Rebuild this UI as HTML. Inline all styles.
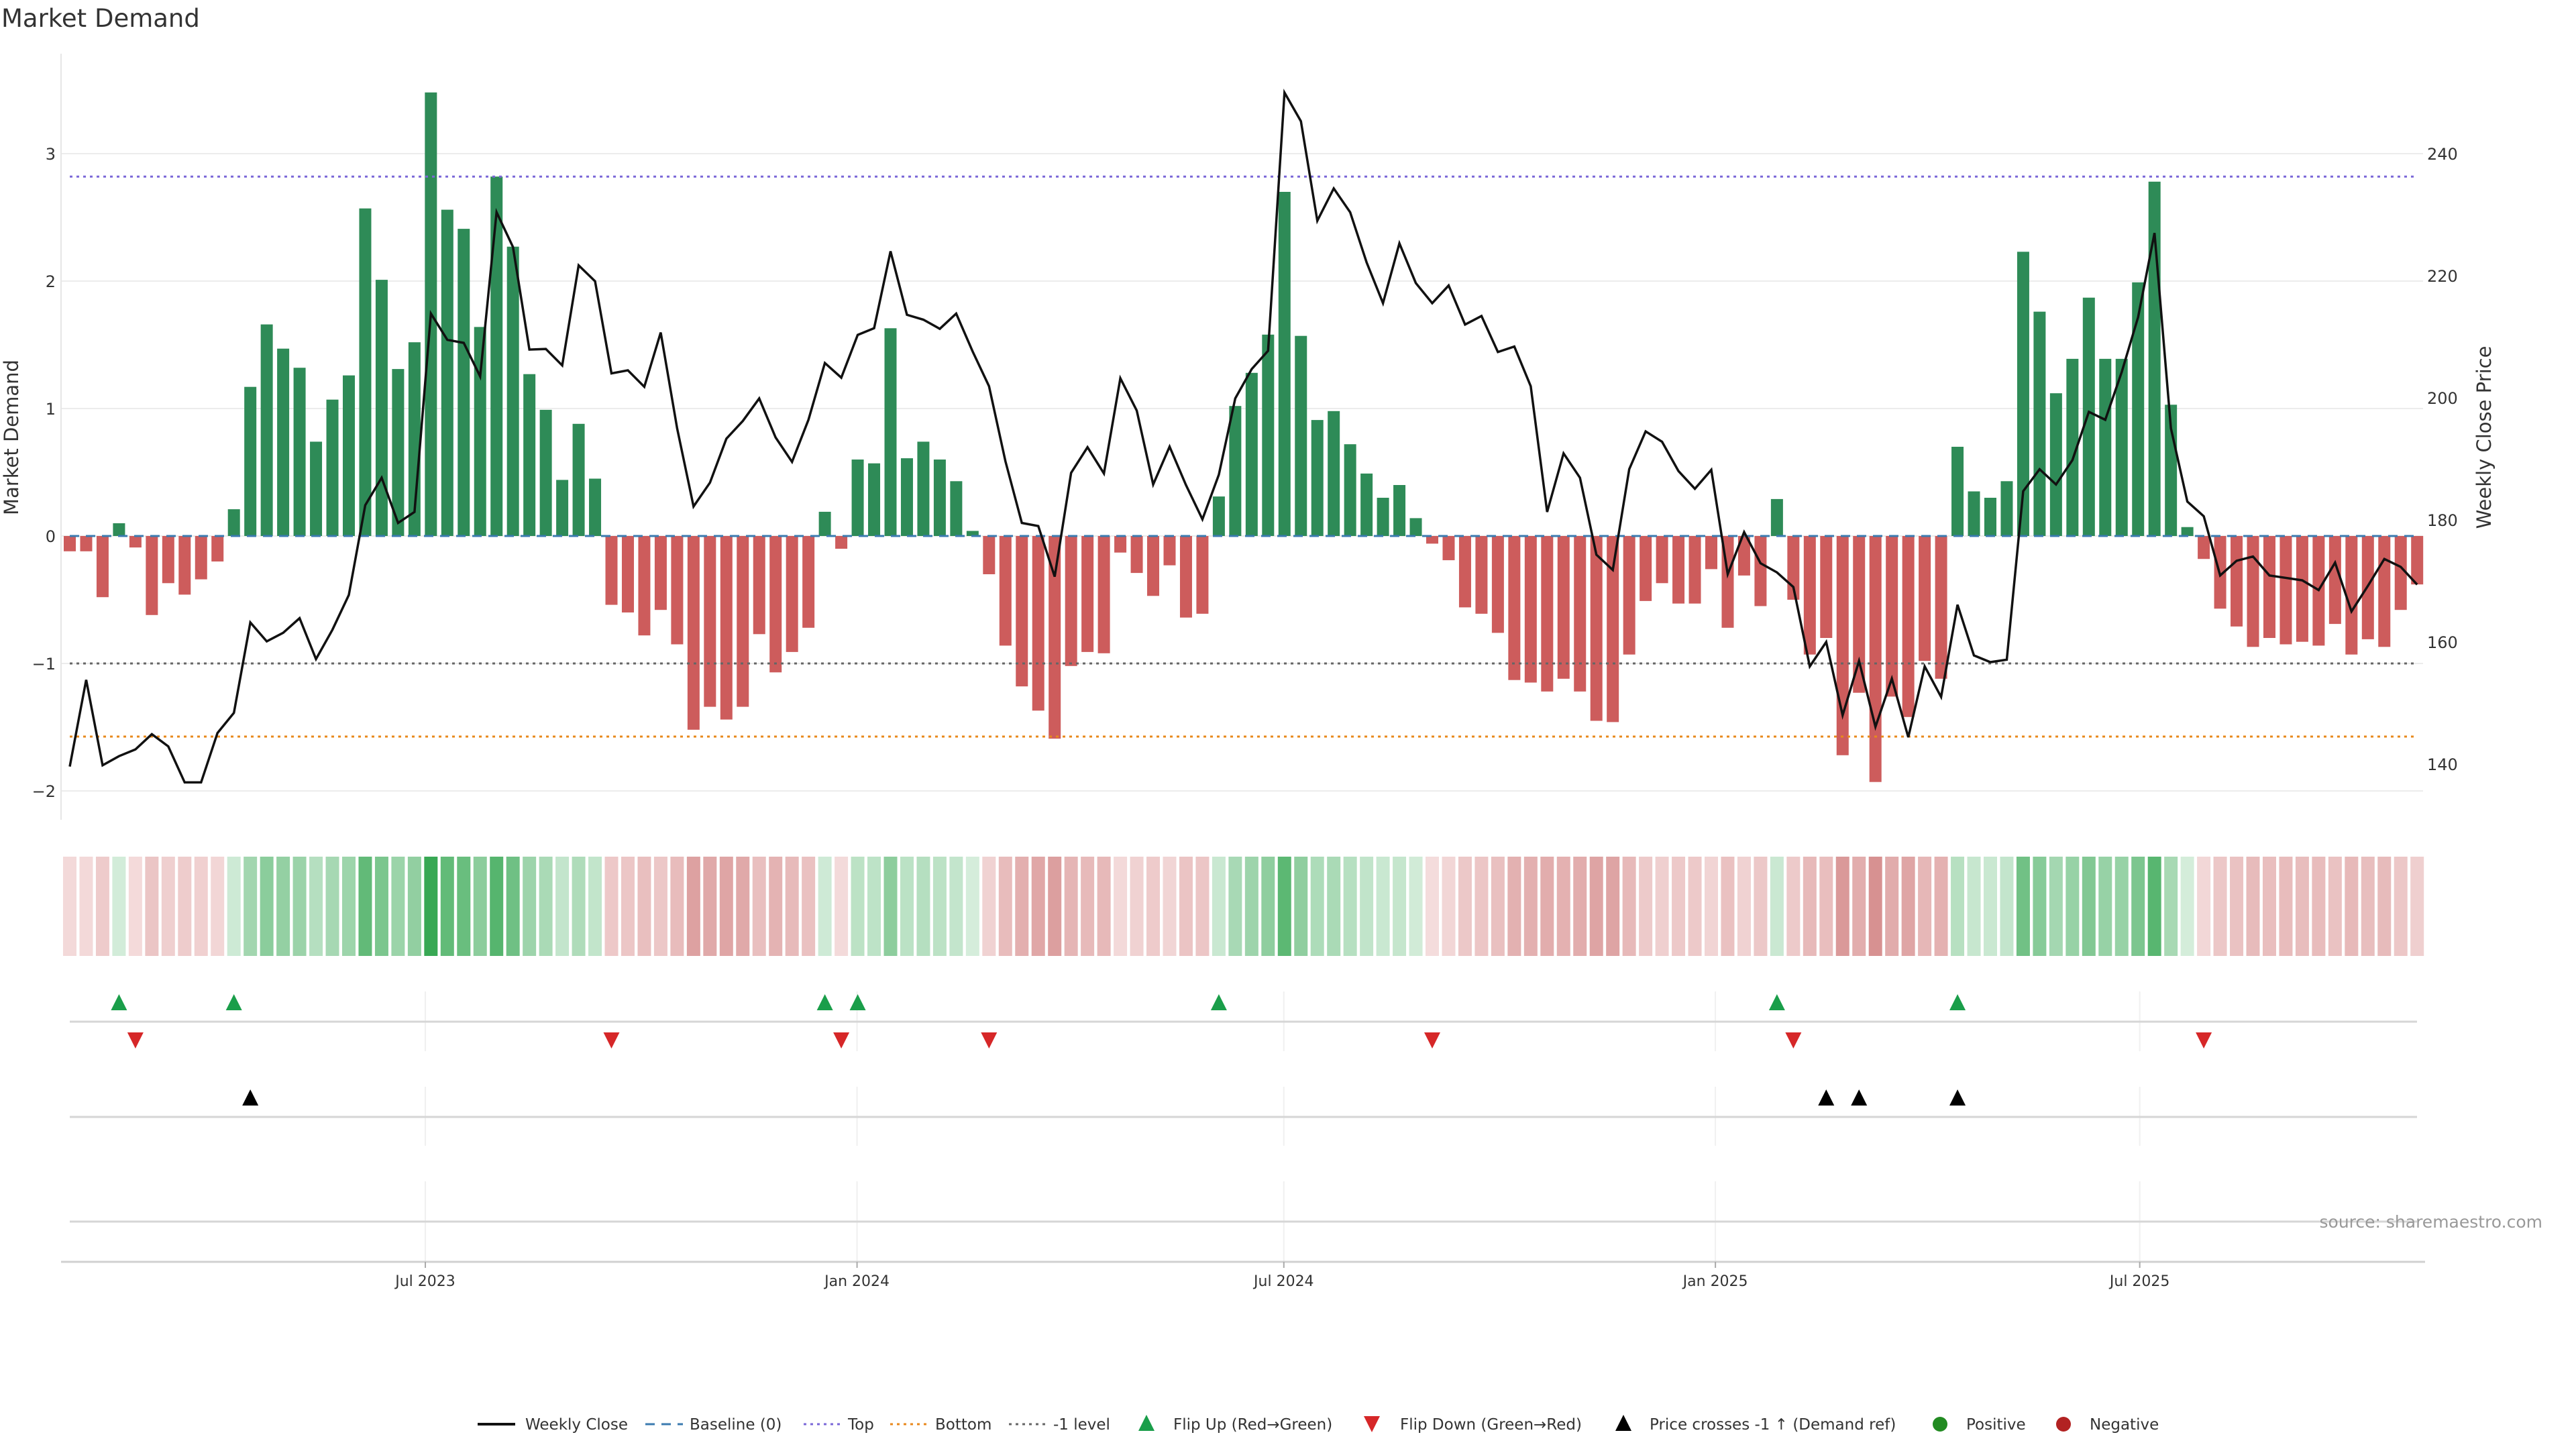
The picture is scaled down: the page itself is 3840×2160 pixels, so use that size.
<!DOCTYPE html>
<html><head><meta charset="utf-8"><style>
html,body{margin:0;padding:0;background:#fff;}
svg{display:block;font-family:"DejaVu Sans","Liberation Sans",sans-serif;}
</style></head><body>
<svg id="chart" width="3840" height="2160" viewBox="0 0 3840 2160" xmlns="http://www.w3.org/2000/svg">
<rect width="3840" height="2160" fill="#fff"/>
<text x="2" y="40" font-size="37" fill="#333">Market Demand</text>
<g id="main"></g>
<g id="heat"></g>
<g id="events"></g>
<g id="xaxis"></g>
<text x="3790" y="1830" font-size="25" fill="#999" text-anchor="end">source: sharemaestro.com</text>
<g id="legend"></g>
</svg>
<script>
const demand = [-0.12,-0.12,-0.48,0.10,-0.09,-0.62,-0.37,-0.46,-0.34,-0.20,0.21,1.17,1.66,1.47,1.32,0.74,1.07,1.26,2.57,2.01,1.31,1.52,3.48,2.56,2.41,1.64,2.82,2.27,1.27,0.99,0.44,0.88,0.45,-0.54,-0.60,-0.78,-0.58,-0.85,-1.52,-1.34,-1.44,-1.34,-0.77,-1.07,-0.91,-0.72,0.19,-0.10,0.60,0.57,1.63,0.61,0.74,0.60,0.43,0.04,-0.30,-0.86,-1.18,-1.37,-1.59,-1.02,-0.91,-0.92,-0.13,-0.29,-0.47,-0.23,-0.64,-0.61,0.31,1.02,1.28,1.58,2.70,1.57,0.91,0.98,0.72,0.49,0.30,0.40,0.14,-0.06,-0.19,-0.56,-0.61,-0.76,-1.13,-1.15,-1.22,-1.12,-1.22,-1.45,-1.46,-0.93,-0.51,-0.37,-0.53,-0.53,-0.26,-0.72,-0.31,-0.55,0.29,-0.50,-0.93,-0.80,-1.72,-1.23,-1.93,-1.26,-1.42,-0.98,-1.12,0.70,0.35,0.30,0.43,2.23,1.76,1.12,1.39,1.87,1.39,1.39,1.99,2.78,1.03,0.07,-0.18,-0.57,-0.71,-0.87,-0.80,-0.85,-0.83,-0.86,-0.69,-0.93,-0.81,-0.87,-0.58,-0.38];
const price = [139.6,153.8,139.8,141.3,142.4,144.9,142.9,137.0,137.0,145.1,148.4,163.2,160.1,161.5,163.9,157.2,162.0,167.7,182.4,186.9,179.5,181.3,213.8,209.5,209.0,203.5,230.4,224.7,207.9,208.0,205.3,221.7,219.1,204.0,204.5,201.8,210.7,195.0,182.2,186.1,193.3,196.2,199.9,193.5,189.5,196.4,205.7,203.3,210.3,211.4,224.0,213.6,212.8,211.3,213.8,207.6,201.9,189.6,179.5,179.0,170.7,187.7,191.9,187.6,203.2,197.9,185.8,192.0,185.7,180.1,187.4,199.9,204.7,207.7,250.0,245.3,229.0,234.3,230.4,222.2,215.5,225.3,218.8,215.5,218.4,212.0,213.4,207.5,208.4,201.9,181.3,190.9,186.9,174.3,171.8,188.3,194.5,192.8,188.0,185.1,188.2,171.1,178.0,172.9,171.4,169.0,156.0,160.0,148.0,156.9,146.1,154.0,144.4,156.0,151.0,166.1,157.8,156.7,157.1,184.7,188.3,185.8,189.8,197.7,196.4,204.2,213.2,227.0,195.0,183.0,180.6,170.9,173.3,174.0,170.9,170.5,170.1,168.5,173.0,165.0,169.2,173.6,172.3,169.4];
const leftTicks = [3,2,1,0,-1,-2];
const rightTicks = [240,220,200,180,160,140];
const dateTickLabels = ["Jul 2023","Jan 2024","Jul 2024","Jan 2025","Jul 2025"];
const dateTickWeeks = [21.66,47.96,73.96,100.25,126.1];
const levelTop = 2.82, levelMinus1 = -1, levelBottom = -1.574;
const flipUp = [3,10,46,48,70,104,115];
const flipDown = [4,33,47,56,83,105,130];
const priceCross = [11,107,109,115];

const NS = "http://www.w3.org/2000/svg";
function mk(parent, tag, attrs){const e=document.createElementNS(NS,tag);for(const k in attrs)e.setAttribute(k,attrs[k]);parent.appendChild(e);return e;}
const X0=104, DX=24.47;
const xw = i => X0 + i*DX;
const yd = v => 799 - v*190;
const yp = p => 229 + (240-p)*9.1;
const XL=91, XR=3612;

const main=document.getElementById('main');
leftTicks.forEach(t=>{
  const g=mk(main,'line',{x1:XL,x2:XR,y1:yd(t),y2:yd(t),stroke:'#ececec','stroke-width':2});
  
  
  const tx=mk(main,'text',{x:83,y:yd(t)+9,'font-size':24,fill:'#333','text-anchor':'end'});
  tx.textContent = t<0 ? '\u2212'+Math.abs(t) : String(t);
  
  
});
rightTicks.forEach(t=>{
  const tx=mk(main,'text',{x:3618,y:yp(t)+9,'font-size':24,fill:'#333'});
  tx.textContent=String(t);
  
  
});
let sp=mk(main,'line',{x1:XL,x2:XL,y1:80,y2:1222,stroke:'#e6e6e6','stroke-width':2});


let lt=mk(main,'text',{x:0,y:0,'font-size':29,fill:'#333','text-anchor':'middle',transform:'translate(27,652) rotate(-90)'});
lt.textContent='Market Demand';


let rt=mk(main,'text',{x:0,y:0,'font-size':29,fill:'#333','text-anchor':'middle',transform:'translate(3713,652) rotate(-90)'});
rt.textContent='Weekly Close Price';



demand.forEach((v,i)=>{
  const y0=yd(0), y1=yd(v);
  const r=mk(main,'rect',{x:xw(i)-9,y:Math.min(y0,y1),width:18,height:Math.max(1,Math.abs(y1-y0)),fill:v>=0?'#2e8b57':'#cd5c5c'});
  
  
});
const lx1=xw(0), lx2=xw(demand.length-1);
[[levelTop,'#7b68d8','4 6'],[levelMinus1,'#666','4 6'],[levelBottom,'#e8891c','4 6']].forEach((l,k)=>{
  const e=mk(main,'line',{x1:lx1,x2:lx2,y1:yd(l[0]),y2:yd(l[0]),stroke:l[1],'stroke-width':3,'stroke-dasharray':l[2]});
  
  
});
let bl=mk(main,'line',{x1:lx1,x2:lx2,y1:yd(0),y2:yd(0),stroke:'#3b7bb0','stroke-width':3,'stroke-dasharray':'14 10'});


let pl=mk(main,'polyline',{points:price.map((p,i)=>xw(i)+','+yp(p)).join(' '),fill:'none',stroke:'#111','stroke-width':3.5,'stroke-linejoin':'miter'});



// heatmap
const heat=document.getElementById('heat');
const maxP=Math.max(...demand), minN=Math.min(...demand);
demand.forEach((v,i)=>{
  let c;
  if(v>=0){const t=v/maxP;c=`rgb(${Math.round(215-159*t)},${Math.round(238-70*t)},${Math.round(221-137*t)})`;}
  else{const t=v/minN;c=`rgb(${Math.round(245-30*t)},${Math.round(222-77*t)},${Math.round(222-77*t)})`;}
  const r=mk(heat,'rect',{x:xw(i)-10,y:1277,width:20,height:148,fill:c});
  
  
});

// event panels
const ev=document.getElementById('events');
dateTickWeeks.forEach(w=>{
  [[1478,1567],[1620,1708],[1761,1880]].forEach(s=>{
    const l=mk(ev,'line',{x1:xw(w),x2:xw(w),y1:s[0],y2:s[1],stroke:'#f0f0f0','stroke-width':2});
    
    
  });
});
[1523,1665,1821].forEach(y=>{
  const l=mk(ev,'line',{x1:104,x2:3603,y1:y,y2:y,stroke:'#d6d6d6','stroke-width':3});
  
  
});
function tri(g,cx,cy,up,fill,name){
  const s=12;
  const pts= up?`${cx-s},${cy+s} ${cx+s},${cy+s} ${cx},${cy-s}`:`${cx-s},${cy-s} ${cx+s},${cy-s} ${cx},${cy+s}`;
  const p=mk(g,'polygon',{points:pts,fill:fill});
  
  
}
flipUp.forEach(i=>tri(ev,xw(i),1494,true,'#1a9e4a','flip-up-marker'));
flipDown.forEach(i=>tri(ev,xw(i),1551,false,'#d62728','flip-down-marker'));
priceCross.forEach(i=>tri(ev,xw(i),1636,true,'#000','price-cross-marker'));

// x axis
const xa=document.getElementById('xaxis');
let ax=mk(xa,'line',{x1:91,x2:3615,y1:1881,y2:1881,stroke:'#d0d0d0','stroke-width':3});


dateTickWeeks.forEach((w,k)=>{
  const t=mk(xa,'line',{x1:xw(w),x2:xw(w),y1:1881,y2:1890,stroke:'#aaa','stroke-width':2});
  
  
  const tx=mk(xa,'text',{x:xw(w),y:1917,'font-size':22,fill:'#333','text-anchor':'middle'});
  tx.textContent=dateTickLabels[k];
  
  
});

// legend
const lg=document.getElementById('legend');
const LY=2123;
function ltext(x,s){const t=mk(lg,'text',{x:x,y:LY+8,'font-size':23,fill:'#333'});t.textContent=s;}
function lline(x,col,dash,w,name){const l=mk(lg,'line',{x1:x,x2:x+56,y1:LY,y2:LY,stroke:col,'stroke-width':w,'stroke-dasharray':dash});}
lline(712,'#111','none',4,'legend-weekly-close'); ltext(783,'Weekly Close');
lline(962,'#3b7bb0','14 10',3,'legend-baseline'); ltext(1028,'Baseline (0)');
lline(1198,'#7b68d8','4 6',3,'legend-top'); ltext(1264,'Top');
lline(1327,'#e8891c','4 6',3,'legend-bottom'); ltext(1394,'Bottom');
lline(1504,'#666','4 6',3,'legend-minus-one'); ltext(1570,'-1 level');
tri(lg,1709,LY-2,true,'#1a9e4a','legend-flip-up'); ltext(1749,'Flip Up (Red\u2192Green)');
tri(lg,2045,LY,false,'#d62728','legend-flip-down'); ltext(2087,'Flip Down (Green\u2192Red)');
tri(lg,2420,LY-2,true,'#000','legend-price-cross'); ltext(2459,'Price crosses -1 \u2191 (Demand ref)');
let c1=mk(lg,'circle',{cx:2892,cy:LY,r:11,fill:'#228b22'});


ltext(2931,'Positive');
let c2=mk(lg,'circle',{cx:3076,cy:LY,r:11,fill:'#b22222'});


ltext(3115,'Negative');
</script>
</body></html>
